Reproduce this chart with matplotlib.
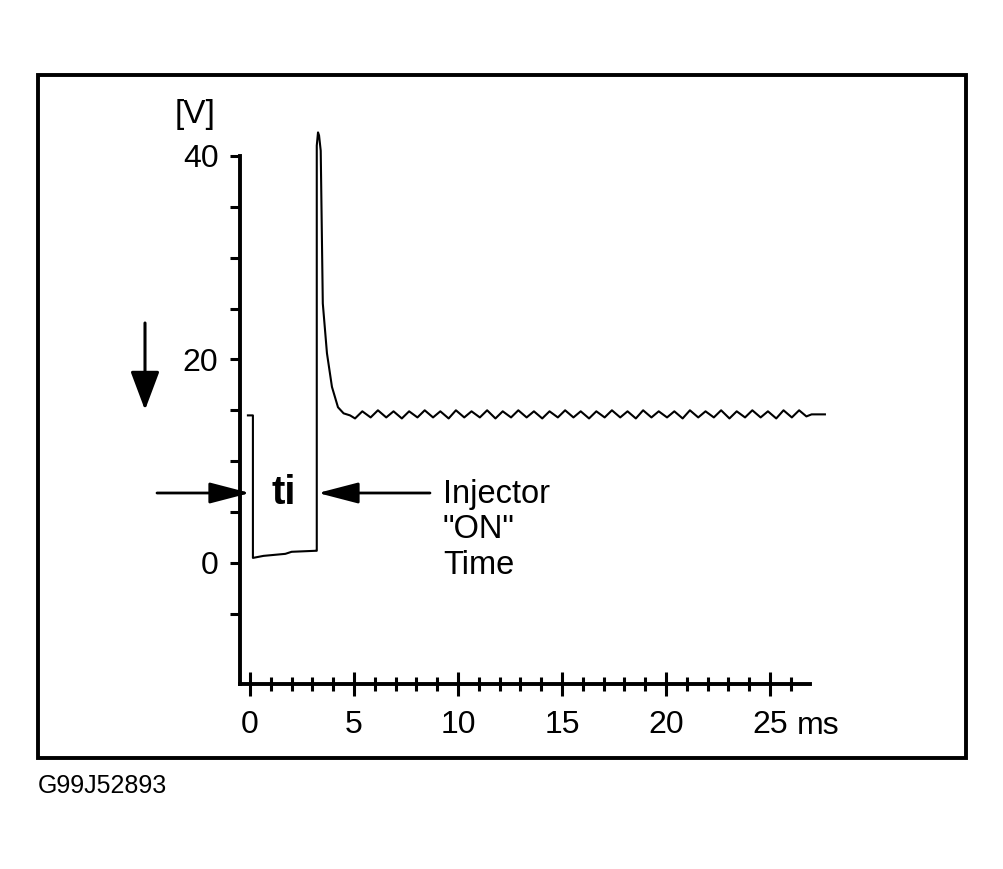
import matplotlib
matplotlib.use('Agg')
import matplotlib.pyplot as plt
from matplotlib.patches import Rectangle, FancyArrowPatch
from matplotlib.ticker import FixedLocator

plt.rcParams['font.family'] = ['Liberation Sans', 'DejaVu Sans']

# injector voltage trace (ms, V)
time_ms = [-0.10, 0.14, 0.14, 0.65, 1.70, 2.00, 3.15, 3.21, 3.21, 3.27, 3.32, 3.40,
           3.50, 3.70, 3.94, 4.23, 4.50, 4.81, 5.05,
           5.40, 5.80, 6.15, 6.55, 6.90, 7.30, 7.65, 8.05, 8.40, 8.80, 9.15, 9.55,
           9.90, 10.30, 10.65, 11.05, 11.40, 11.80, 12.15, 12.55, 12.90, 13.30,
           13.65, 14.05, 14.40, 14.80, 15.15, 15.55, 15.90, 16.30, 16.65, 17.05,
           17.40, 17.80, 18.15, 18.55, 18.90, 19.30, 19.65, 20.05, 20.40, 20.80,
           21.15, 21.55, 21.90, 22.30, 22.65, 23.05, 23.40, 23.80, 24.15, 24.55,
           24.90, 25.30, 25.65, 26.05, 26.40, 26.75, 27.00, 27.64]
volts = [14.5, 14.5, 0.5, 0.7, 0.9, 1.1, 1.2, 1.2, 41.0, 42.3, 42.0, 40.5,
         25.5, 20.6, 17.3, 15.3, 14.7, 14.5, 14.2,
         14.9, 14.3, 15.0, 14.3, 14.9, 14.2, 14.9, 14.3, 15.0, 14.3, 14.9, 14.2,
         15.0, 14.3, 14.9, 14.3, 15.0, 14.2, 14.9, 14.3, 15.0, 14.3,
         14.9, 14.2, 14.9, 14.3, 15.0, 14.3, 14.9, 14.2, 14.9, 14.3,
         15.0, 14.3, 14.9, 14.2, 15.0, 14.3, 14.9, 14.3, 14.9, 14.2,
         15.0, 14.3, 14.9, 14.3, 15.0, 14.2, 14.9, 14.3, 15.0, 14.3,
         14.9, 14.2, 15.0, 14.3, 15.0, 14.4, 14.6, 14.6]

x_ticks = [0, 5, 10, 15, 20, 25]
x_labels = ['0', '5', '10', '15', '20', '25']
x_minor = list(range(0, 27))
y_ticks = [-5, 0, 5, 10, 15, 20, 25, 30, 35, 40]
y_labels = ['', '0', '', '', '', '20', '', '', '', '40']

W, H = 1004, 869


def fx(px):
    return px / W


def fy(py):
    return 1 - py / H


fig = plt.figure(figsize=(W / 100, H / 100), dpi=100)

# axes placed so that 0 ms -> x=250px, 20.8 px/ms and 0 V -> y=563px, 10.18 px/V
ax = fig.add_axes([fx(200), fy(720), 700 / W, 620 / H])
ax.set_xlim((200 - 250) / 20.8, (900 - 250) / 20.8)
ax.set_ylim((563 - 720) / 10.18, (563 - 100) / 10.18)
ax.patch.set_visible(False)

ax.plot(time_ms, volts, color='black', lw=1.5, solid_joinstyle='round')

for s in ['top', 'right']:
    ax.spines[s].set_visible(False)
ax.spines['left'].set_position(('data', -0.48))
ax.spines['left'].set_bounds(-11.9, 40)
ax.spines['bottom'].set_position(('data', -11.9))
ax.spines['bottom'].set_bounds(-0.48, 26.9)
ax.spines['left'].set_linewidth(2.8)
ax.spines['bottom'].set_linewidth(2.8)

ax.set_xticks(x_ticks, x_labels)
ax.xaxis.set_minor_locator(FixedLocator(x_minor))
ax.tick_params(axis='x', which='major', direction='inout', length=17, width=2.2,
               pad=10, labelsize=23)
ax.tick_params(axis='x', which='minor', direction='inout', length=10, width=2.2)
ax.set_yticks(y_ticks, y_labels)
ax.tick_params(axis='y', direction='out', length=7.5, width=2.2, pad=8, labelsize=23)

fig.text(fx(797), fy(734), 'ms', ha='left', va='baseline', fontsize=23)
fig.text(fx(195), fy(115), '[V]', ha='center', va='center', fontsize=24)

# annotation arrows
def arrow(x0, y0, x1, y1, hl, hw, lw):
    fig.add_artist(FancyArrowPatch((fx(x0), fy(y0)), (fx(x1), fy(y1)),
                                   transform=fig.transFigure,
                                   arrowstyle='-|>,head_length=%g,head_width=%g' % (hl, hw),
                                   mutation_scale=1, lw=lw, color='black',
                                   shrinkA=0, shrinkB=0))


arrow(145, 323, 145, 410, 24, 9, 2.2)
arrow(157, 493, 250, 493, 25, 6.5, 2)
arrow(430, 493, 318, 493, 25, 6.5, 2)

fig.text(fx(284), fy(493), 'ti', ha='center', va='center', fontsize=29, weight='bold')
fig.text(fx(443), fy(530), 'Injector\n"ON"\nTime', ha='left', va='center',
         fontsize=23.5, linespacing=1.18)

fig.add_artist(Rectangle((fx(38), fy(758)), (966 - 38) / W, (758 - 75) / H,
                         transform=fig.transFigure, fill=False, lw=2.8, color='black'))
fig.text(fx(38), fy(786), 'G99J52893', ha='left', va='center', fontsize=18)

fig.savefig('out.png', dpi=100)
